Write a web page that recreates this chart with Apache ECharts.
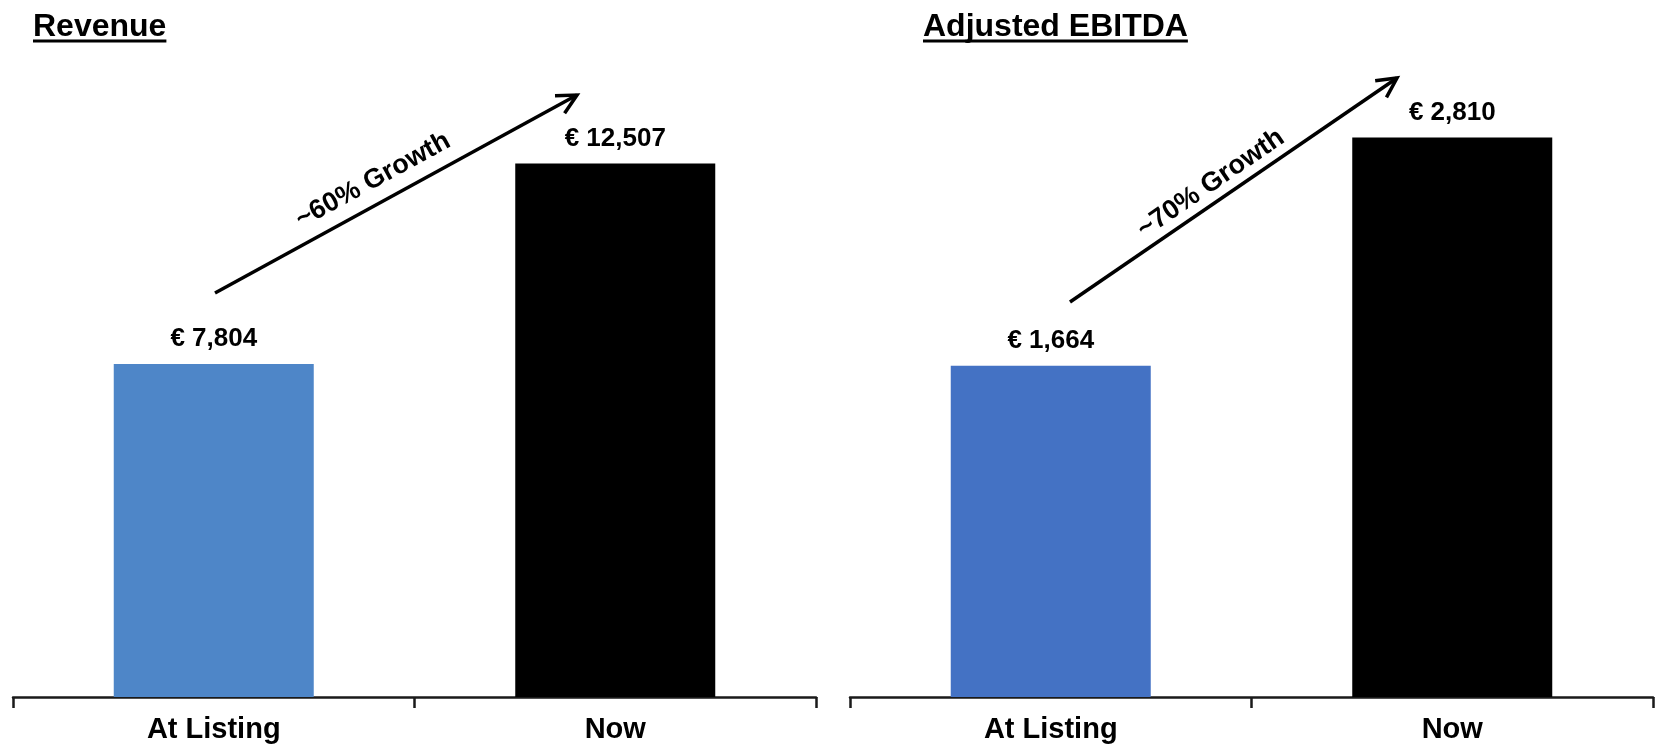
<!DOCTYPE html>
<html>
<head>
<meta charset="utf-8">
<script src="https://cdn.jsdelivr.net/npm/echarts@6/dist/echarts.min.js"></script>
<style>
  html, body { margin: 0; padding: 0; background: #ffffff; }
  #chart { width: 1656px; height: 744px; }
</style>
</head>
<body>
<div id="chart"></div>
<script>
// Data
const categories = ['At Listing', 'Now'];
const revenueValues = [7804, 12507];
const ebitdaValues = [1664, 2810];
const panelTitles = ['Revenue', 'Adjusted EBITDA'];
const growthLabels = ['~60% Growth', '~70% Growth'];

const FONT = '"Liberation Sans", Arial, sans-serif';
const barColorsLeft = ['#4E86C8', '#000000'];
const barColorsRight = ['#4472C4', '#000000'];

function euro(v) {
  return '\u20AC ' + v.toLocaleString('en-US');
}

function measure(text, size) {
  const c = document.createElement('canvas').getContext('2d');
  c.font = 'bold ' + size + 'px ' + FONT;
  return c.measureText(text).width;
}

// Underlined panel heading
function heading(text, x) {
  const size = 32;
  const w = measure(text, size);
  return [
    { type: 'text', x: x, y: 11, style: { text: text, font: 'bold ' + size + 'px ' + FONT, fill: '#000' } },
    { type: 'rect', shape: { x: x, y: 39.5, width: w, height: 3 }, style: { fill: '#000' } }
  ];
}

// Growth arrow with an open head and a rotated caption above the shaft
function arrow(x1, y1, x2, y2, label, along, offset) {
  const dx = x2 - x1, dy = y2 - y1;
  const len = Math.sqrt(dx * dx + dy * dy);
  const ux = dx / len, uy = dy / len;
  const ang = Math.atan2(-dy, dx);
  const head = 22, spread = 27 * Math.PI / 180;
  const back = Math.atan2(-uy, -ux);
  const a1 = back + spread, a2 = back - spread;
  const p1 = [x2 + head * Math.cos(a1), y2 + head * Math.sin(a1)];
  const p2 = [x2 + head * Math.cos(a2), y2 + head * Math.sin(a2)];
  // normal pointing up-left of the shaft
  const nx = uy, ny = -ux;
  const cx = x1 + dx * along + nx * offset;
  const cy = y1 + dy * along + ny * offset;
  return [
    { type: 'line', shape: { x1: x1, y1: y1, x2: x2, y2: y2 }, style: { stroke: '#000', lineWidth: 3.5 } },
    { type: 'polyline', shape: { points: [p1, [x2, y2], p2] }, style: { stroke: '#000', lineWidth: 3.5, fill: null } },
    { type: 'text', x: cx, y: cy, rotation: ang,
      style: { text: label, font: 'bold 27px ' + FONT, fill: '#000', align: 'center', verticalAlign: 'middle' } }
  ];
}

function seriesFor(values, colors, gridIndex) {
  return {
    type: 'bar',
    xAxisIndex: gridIndex,
    yAxisIndex: gridIndex,
    barWidth: 200,
    data: values.map((v, i) => ({ value: v, itemStyle: { color: colors[i] } })),
    label: {
      show: true,
      position: 'top',
      distance: 12,
      formatter: p => euro(p.value),
      fontFamily: FONT,
      fontWeight: 'bold',
      fontSize: 26,
      color: '#000'
    },
    emphasis: { disabled: true },
    silent: true
  };
}

function xAxisFor(gridIndex) {
  return {
    type: 'category',
    gridIndex: gridIndex,
    data: categories,
    boundaryGap: true,
    axisLine: { show: true, lineStyle: { color: '#1a1a1a', width: 2.5 } },
    axisTick: { show: true, length: 11, lineStyle: { color: '#1a1a1a', width: 2.5 } },
    axisLabel: { color: '#000', fontFamily: FONT, fontWeight: 'bold', fontSize: 29, margin: 18 }
  };
}

function yAxisFor(gridIndex, max) {
  return { type: 'value', gridIndex: gridIndex, min: 0, max: max, show: false, splitLine: { show: false } };
}

const chart = echarts.init(document.getElementById('chart'), null, { renderer: 'canvas' });

chart.setOption({
  backgroundColor: '#ffffff',
  animation: false,
  grid: [
    { left: 13, top: 40, width: 803, bottom: 46 },
    { left: 850, top: 40, width: 803, bottom: 46 }
  ],
  xAxis: [xAxisFor(0), xAxisFor(1)],
  yAxis: [yAxisFor(0, 15400), yAxisFor(1, 3300)],
  series: [
    seriesFor(revenueValues, barColorsLeft, 0),
    seriesFor(ebitdaValues, barColorsRight, 1)
  ],
  graphic: [].concat(
    heading(panelTitles[0], 33),
    heading(panelTitles[1], 923),
    arrow(215, 293, 577, 95, growthLabels[0], 0.467, 23),
    arrow(1070, 302, 1397, 78, growthLabels[1], 0.462, 18)
  )
});
</script>
</body>
</html>
